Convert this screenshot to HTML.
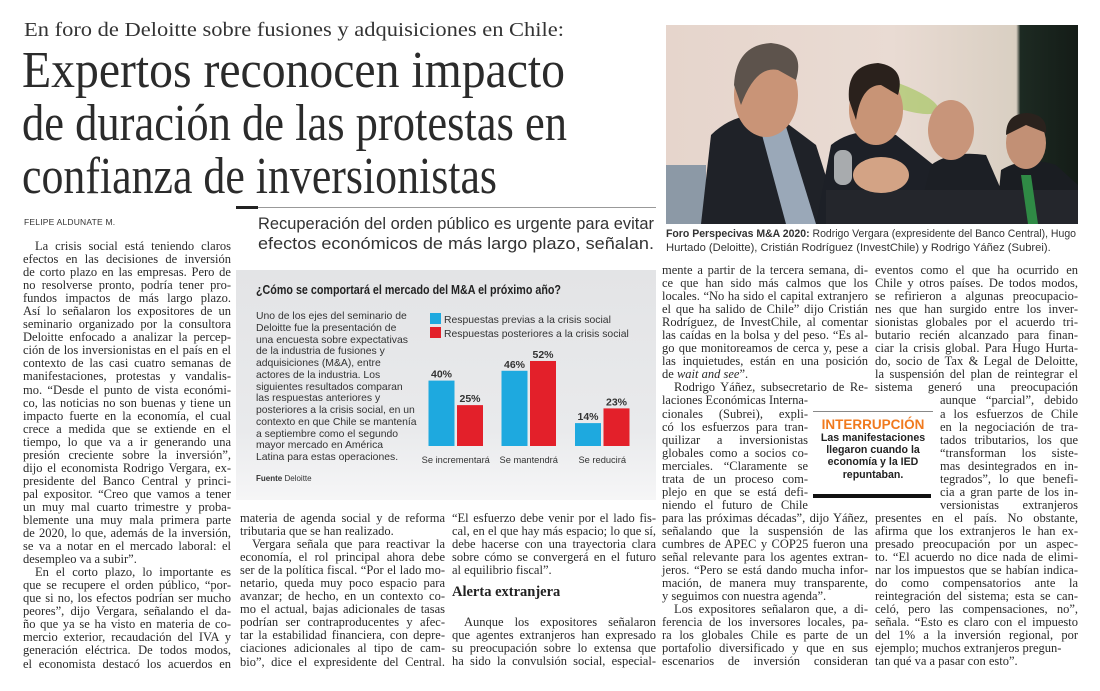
<!DOCTYPE html>
<html><head><meta charset="utf-8">
<style>
*{margin:0;padding:0;box-sizing:border-box}
body{width:1100px;height:691px;background:#fff;position:relative;overflow:hidden;font-family:"Liberation Serif",serif;color:#222}
.abs{position:absolute}
.fitline{white-space:nowrap;display:block;transform-origin:left top}
.col{position:absolute;font-size:12.5px;line-height:13.05px;color:#2a2a2a}
.col .l{height:13.05px;white-space:nowrap;text-align:justify;text-align-last:justify;overflow:visible}
.col .e{text-align-last:left}
.col .i{text-indent:12px}
.sans{font-family:"Liberation Sans",sans-serif}
</style></head><body>

<div class="abs" style="left:24px;top:19px;width:540px;font-size:20px;color:#333"><span class="fitline fit" data-w="540">En foro de Deloitte sobre fusiones y adquisiciones en Chile:</span></div>
<div class="abs" style="left:22px;top:44px;width:545px;font-size:52px;line-height:53px;color:#2b2b2b">
<span class="fitline fit" data-w="543">Expertos reconocen impacto</span>
<span class="fitline fit" data-w="545">de duración de las protestas en</span>
<span class="fitline fit" data-w="475">confianza de inversionistas</span>
</div>

<div class="abs sans" style="left:24px;top:217px;font-size:8.5px;color:#333;letter-spacing:0.2px">FELIPE ALDUNATE M.</div>
<div class="abs" style="left:236px;top:207px;width:420px;height:1px;background:#999"></div>
<div class="abs" style="left:236px;top:206px;width:22px;height:3px;background:#222"></div>
<div class="abs sans" style="left:258px;top:214px;width:400px;font-size:16.5px;line-height:20px;color:#333">
<span class="fitline fit" data-w="396">Recuperación del orden público es urgente para evitar</span>
<span class="fitline fit" data-w="396">efectos económicos de más largo plazo, señalan.</span>
</div>

<!-- photo -->
<div class="abs" style="left:666px;top:25px;width:412px;height:199px;overflow:hidden;background:linear-gradient(90deg,#e6d5cc 0%,#e9dbd3 55%,#d9cfc2 85%,#1d2a22 86%,#141c17 100%)">
<svg width="412" height="199" style="position:absolute;left:0;top:0">
<ellipse cx="230" cy="70" rx="45" ry="12" fill="#8fbf3a" opacity="0.5" transform="rotate(20 230 70)"/>
<rect x="0" y="140" width="40" height="60" fill="#8c99a6"/>
<path d="M35 199 L45 110 Q70 85 110 90 L150 120 L175 199Z" fill="#1f2228"/>
<path d="M92 95 L118 95 L150 199 L120 199Z" fill="#9aa8b8"/>
<ellipse cx="100" cy="70" rx="32" ry="42" fill="#c99477"/>
<path d="M68 60 Q70 20 105 18 Q140 22 130 55 L112 45 Q90 40 75 80Z" fill="#5d534c"/>
<path d="M150 199 L165 120 Q190 100 230 110 L280 150 L300 199Z" fill="#1d2027"/>
<ellipse cx="210" cy="85" rx="27" ry="35" fill="#c89476"/>
<path d="M183 75 Q180 40 212 38 Q240 42 232 70 L215 60 Q195 60 190 95Z" fill="#2a211c"/>
<path d="M250 199 L265 140 Q285 125 320 130 L350 199Z" fill="#1c1f25"/>
<ellipse cx="285" cy="105" rx="23" ry="30" fill="#c8957a"/>
<path d="M330 199 L335 145 Q360 130 390 140 L412 160 L412 199Z" fill="#1a1d22"/>
<rect x="160" y="165" width="252" height="34" fill="#24262c"/>
<ellipse cx="215" cy="150" rx="28" ry="18" fill="#d3a385"/>
<rect x="168" y="125" width="18" height="35" rx="8" fill="#a8abae"/>
<ellipse cx="360" cy="118" rx="20" ry="26" fill="#c29075"/>
<path d="M340 110 Q340 88 362 88 Q382 90 380 108 L360 100Z" fill="#2a221d"/>
<path d="M355 150 L365 150 L372 199 L362 199Z" fill="#2f8a45"/>
</svg>
</div>
<div class="abs sans" style="left:666px;top:227px;width:412px;font-size:11.2px;line-height:14px;color:#333">
<span class="fitline fit" data-w="410"><b>Foro Perspecivas M&amp;A 2020:</b> Rodrigo Vergara (expresidente del Banco Central), Hugo</span>
<span class="fitline">Hurtado (Deloitte), Cristián Rodríguez (InvestChile) y Rodrigo Yáñez (Subrei).</span>
</div>

<!-- chart -->
<div class="abs" style="left:236px;top:270px;width:420px;height:230px;background:linear-gradient(180deg,#e3e4e6 0%,#e9eaec 70%,#f6f6f7 100%)"></div>
<svg class="abs" id="chart" width="420" height="230" style="left:236px;top:270px;font-family:'Liberation Sans',sans-serif"></svg>
<div class="abs sans" style="left:256px;top:282px;font-size:13.3px;font-weight:bold;color:#222"><span class="fitline fit" data-w="305">¿Cómo se comportará el mercado del M&amp;A el próximo año?</span></div>
<div class="abs sans" style="left:256px;top:311px;font-size:10.4px;line-height:11.75px;color:#333">
<span class="fitline">Uno de los ejes del seminario de</span>
<span class="fitline">Deloitte fue la presentación de</span>
<span class="fitline">una encuesta sobre expectativas</span>
<span class="fitline">de la industria de fusiones y</span>
<span class="fitline">adquisiciones (M&amp;A), entre</span>
<span class="fitline">actores de la industria. Los</span>
<span class="fitline">siguientes resultados comparan</span>
<span class="fitline">las respuestas anteriores y</span>
<span class="fitline">posteriores a la crisis social, en un</span>
<span class="fitline">contexto en que Chile se mantenía</span>
<span class="fitline">a septiembre como el segundo</span>
<span class="fitline">mayor mercado en América</span>
<span class="fitline">Latina para estas operaciones.</span>
</div>
<div class="abs sans" style="left:256px;top:474px;font-size:8px;color:#333"><b>Fuente</b> Deloitte</div>

<!-- columns -->
<div class="col" style="left:23px;top:240px;width:208px">
<div class="l i">La crisis social está teniendo claros</div>
<div class="l">efectos en las decisiones de inversión</div>
<div class="l">de corto plazo en las empresas. Pero de</div>
<div class="l">no resolverse pronto, podría tener pro-</div>
<div class="l">fundos impactos de más largo plazo.</div>
<div class="l">Así lo señalaron los expositores de un</div>
<div class="l">seminario organizado por la consultora</div>
<div class="l">Deloitte enfocado a analizar la percep-</div>
<div class="l">ción de los inversionistas en el país en el</div>
<div class="l">contexto de las casi cuatro semanas de</div>
<div class="l">manifestaciones, protestas y vandalis-</div>
<div class="l">mo. “Desde el punto de vista económi-</div>
<div class="l">co, las noticias no son buenas y tiene un</div>
<div class="l">impacto fuerte en la economía, el cual</div>
<div class="l">crece a medida que se extiende en el</div>
<div class="l">tiempo, lo que va a ir generando una</div>
<div class="l">presión creciente sobre la inversión”,</div>
<div class="l">dijo el economista Rodrigo Vergara, ex-</div>
<div class="l">presidente del Banco Central y princi-</div>
<div class="l">pal expositor. “Creo que vamos a tener</div>
<div class="l">un muy mal cuarto trimestre y proba-</div>
<div class="l">blemente una muy mala primera parte</div>
<div class="l">de 2020, lo que, además de la inversión,</div>
<div class="l">se va a notar en el mercado laboral: el</div>
<div class="l e">desempleo va a subir”.</div>
<div class="l i">En el corto plazo, lo importante es</div>
<div class="l">que se recupere el orden público, “por-</div>
<div class="l">que si no, los efectos podrían ser mucho</div>
<div class="l">peores”, dijo Vergara, señalando el da-</div>
<div class="l">ño que ya se ha visto en materia de co-</div>
<div class="l">mercio exterior, recaudación del IVA y</div>
<div class="l">generación eléctrica. De todos modos,</div>
<div class="l">el economista destacó los acuerdos en</div>
</div>

<div class="col" style="left:240px;top:512px;width:205px">
<div class="l">materia de agenda social y de reforma</div>
<div class="l e">tributaria que se han realizado.</div>
<div class="l i">Vergara señala que para reactivar la</div>
<div class="l">economía, el rol principal ahora debe</div>
<div class="l">ser de la política fiscal. “Por el lado mo-</div>
<div class="l">netario, queda muy poco espacio para</div>
<div class="l">avanzar; de hecho, en un contexto co-</div>
<div class="l">mo el actual, bajas adicionales de tasas</div>
<div class="l">podrían ser contraproducentes y afec-</div>
<div class="l">tar la estabilidad financiera, con depre-</div>
<div class="l">ciaciones adicionales al tipo de cam-</div>
<div class="l">bio”, dice el expresidente del Central.</div>
</div>

<div class="col" style="left:452px;top:512px;width:204px">
<div class="l">“El esfuerzo debe venir por el lado fis-</div>
<div class="l">cal, en el que hay más espacio; lo que sí,</div>
<div class="l">debe hacerse con una trayectoria clara</div>
<div class="l">sobre cómo se convergerá en el futuro</div>
<div class="l e">al equilibrio fiscal”.</div>
<div class="abs" style="left:0;top:74px;font-size:14.5px;font-weight:bold;color:#222;white-space:nowrap">Alerta extranjera</div>
<div style="height:39px"></div>
<div class="l i">Aunque los expositores señalaron</div>
<div class="l">que agentes extranjeros han expresado</div>
<div class="l">su preocupación sobre lo extensa que</div>
<div class="l">ha sido la convulsión social, especial-</div>
</div>

<div class="col" style="left:662px;top:264px;width:206px">
<div class="l">mente a partir de la tercera semana, di-</div>
<div class="l">ce que han sido más calmos que los</div>
<div class="l">locales. “No ha sido el capital extranjero</div>
<div class="l">el que ha salido de Chile” dijo Cristián</div>
<div class="l">Rodríguez, de InvestChile, al comentar</div>
<div class="l">las caídas en la bolsa y del peso. “Es al-</div>
<div class="l">go que monitoreamos de cerca y, pese a</div>
<div class="l">las inquietudes, están en una posición</div>
<div class="l e">de <i>wait and see</i>”.</div>
<div class="l i">Rodrigo Yáñez, subsecretario de Re-</div>
<div class="l" style="width:146px">laciones Económicas Interna-</div>
<div class="l" style="width:146px">cionales (Subrei), expli-</div>
<div class="l" style="width:146px">có los esfuerzos para tran-</div>
<div class="l" style="width:146px">quilizar a inversionistas</div>
<div class="l" style="width:146px">globales como a socios co-</div>
<div class="l" style="width:146px">merciales. “Claramente se</div>
<div class="l" style="width:146px">trata de un proceso com-</div>
<div class="l" style="width:146px">plejo en que se está defi-</div>
<div class="l" style="width:146px">niendo el futuro de Chile</div>
<div class="l">para las próximas décadas”, dijo Yáñez,</div>
<div class="l">señalando que la suspensión de las</div>
<div class="l">cumbres de APEC y COP25 fueron una</div>
<div class="l">señal relevante para los agentes extran-</div>
<div class="l">jeros. “Pero se está dando mucha infor-</div>
<div class="l">mación, de manera muy transparente,</div>
<div class="l e">y seguimos con nuestra agenda”.</div>
<div class="l i">Los expositores señalaron que, a di-</div>
<div class="l">ferencia de los inversores locales, pa-</div>
<div class="l">ra los globales Chile es parte de un</div>
<div class="l">portafolio diversificado y que en sus</div>
<div class="l">escenarios de inversión consideran</div>
</div>

<div class="col" style="left:875px;top:264px;width:203px">
<div class="l">eventos como el que ha ocurrido en</div>
<div class="l">Chile y otros países. De todos modos,</div>
<div class="l">se refirieron a algunas preocupacio-</div>
<div class="l">nes que han surgido entre los inver-</div>
<div class="l">sionistas globales por el acuerdo tri-</div>
<div class="l">butario recién alcanzado para finan-</div>
<div class="l">ciar la crisis global. Para Hugo Hurta-</div>
<div class="l">do, socio de Tax &amp; Legal de Deloitte,</div>
<div class="l">la suspensión del plan de reintegrar el</div>
<div class="l">sistema generó una preocupación</div>
<div class="l" style="margin-left:65px">aunque “parcial”, debido</div>
<div class="l" style="margin-left:65px">a los esfuerzos de Chile</div>
<div class="l" style="margin-left:65px">en la negociación de tra-</div>
<div class="l" style="margin-left:65px">tados tributarios, los que</div>
<div class="l" style="margin-left:65px">“transforman los siste-</div>
<div class="l" style="margin-left:65px">mas desintegrados en in-</div>
<div class="l" style="margin-left:65px">tegrados”, lo que benefi-</div>
<div class="l" style="margin-left:65px">cia a gran parte de los in-</div>
<div class="l" style="margin-left:65px">versionistas extranjeros</div>
<div class="l">presentes en el país. No obstante,</div>
<div class="l">afirma que los extranjeros le han ex-</div>
<div class="l">presado preocupación por un aspec-</div>
<div class="l">to. “El acuerdo no dice nada de elimi-</div>
<div class="l">nar los impuestos que se habían indica-</div>
<div class="l">do como compensatorios ante la</div>
<div class="l">reintegración del sistema; esta se can-</div>
<div class="l">celó, pero las compensaciones, no”,</div>
<div class="l">señala. “Esto es claro con el impuesto</div>
<div class="l">del 1% a la inversión regional, por</div>
<div class="l e">ejemplo; muchos extranjeros pregun-</div>
<div class="l e">tan qué va a pasar con esto”.</div>
</div>

<!-- pull quote -->
<div class="abs sans" style="left:813px;top:411px;width:120px;height:87px;text-align:center;border-top:1px solid #888">
<div style="margin-top:5px;font-size:13.5px;font-weight:bold;color:#f07a1e;line-height:15px">INTERRUPCIÓN</div>
<div style="font-size:10.6px;font-weight:bold;color:#222;line-height:12.2px">Las manifestaciones<br>llegaron cuando la<br>economía y la IED<br>repuntaban.</div>
<div style="position:absolute;left:0;top:82px;width:118px;height:4px;background:#111"></div>
</div>

<script>
const categories = ["Se incrementará","Se mantendrá","Se reducirá"];
const seriesNames = ["Respuestas previas a la crisis social","Respuestas posteriores a la crisis social"];
const previas = [40,46,14];
const posteriores = [25,52,23];
const valueLabels = [["40%","46%","14%"],["25%","52%","23%"]];

(function(){
  const NS="http://www.w3.org/2000/svg";
  const svg=document.getElementById('chart');
  const baseY=176, pxPer=1.635;
  const groupX=[192.5,265.5,339];
  const barW=26, gap=2.5;
  const colors=["#1ea9df","#e3202a"];
  const y=v=>baseY-v*pxPer;
  const x=(g,s)=>groupX[g]+s*(barW+gap);
  function mk(tag,attrs){const e=document.createElementNS(NS,tag);for(const k in attrs)e.setAttribute(k,attrs[k]);svg.appendChild(e);return e;}
  seriesNames.forEach((n,s)=>{
    const r=mk('rect',{x:194,y:43+s*14,width:11,height:11,fill:colors[s]});
    
    
    const t=mk('text',{x:208,y:53+s*14,'font-size':10.4,fill:'#333'});
    t.textContent=n;
    
    
  });
  [previas,posteriores].forEach((arr,s)=>{
    arr.forEach((v,g)=>{
      const r=mk('rect',{x:x(g,s),y:y(v),width:barW,height:v*pxPer,fill:colors[s]});
      
      
      const t=mk('text',{x:x(g,s)+barW/2,y:y(v)-3,'font-size':10.5,'font-weight':'bold','text-anchor':'middle',fill:'#333'});
      t.textContent=valueLabels[s][g];
      
      
    });
  });
  categories.forEach((c,g)=>{
    const t=mk('text',{x:groupX[g]+barW+gap/2,y:193,'font-size':9.3,'text-anchor':'middle',fill:'#333'});
    t.textContent=c;
    
    
  });
})();

document.querySelectorAll('.fit').forEach(el=>{
  const w=+el.dataset.w; el.style.display='inline-block';
  const nw=el.getBoundingClientRect().width;
  el.style.transform='scaleX('+(w/nw)+')'; el.style.display='block'; el.style.width=nw+'px';
});
document.querySelectorAll('.col .l').forEach(el=>{
  const w=el.clientWidth;
  if(el.scrollWidth>w+1){
    const s=w/el.scrollWidth;
    el.style.width=el.scrollWidth+'px';
    el.style.transformOrigin='left top';
    el.style.transform='scaleX('+s+')';
  }
});
</script>
</body></html>
